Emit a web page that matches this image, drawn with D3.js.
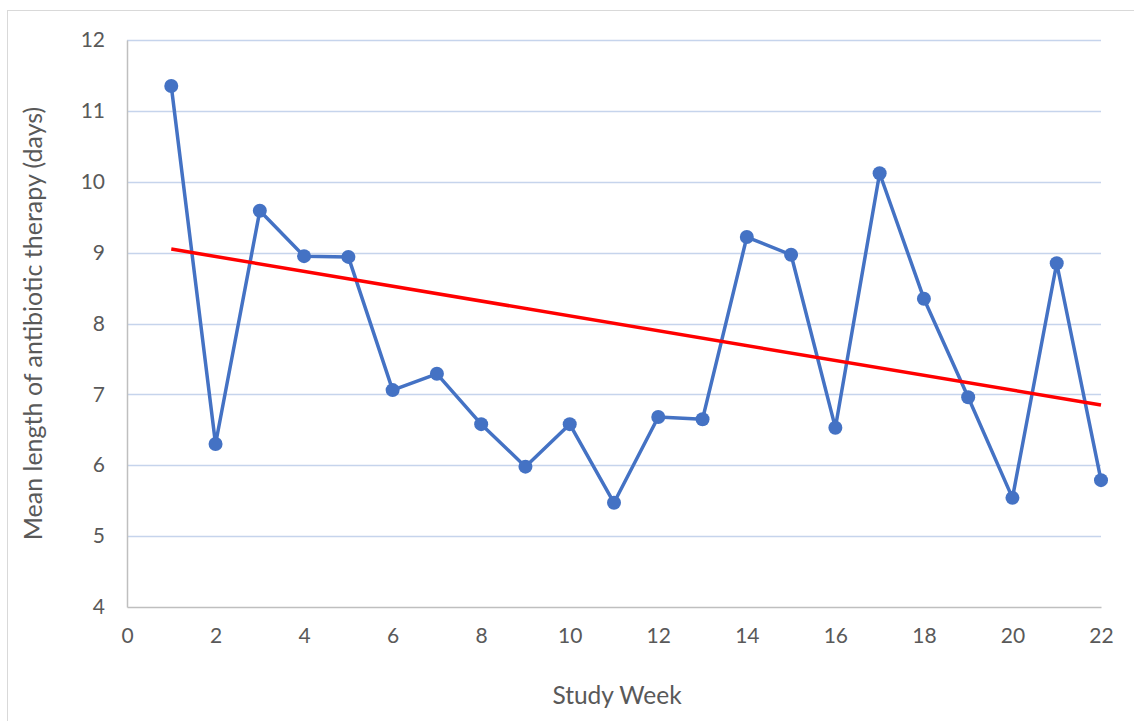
<!DOCTYPE html>
<html>
<head>
<meta charset="utf-8">
<script src="https://cdn.jsdelivr.net/npm/d3@7"></script>
<style>
  html, body { margin: 0; padding: 0; background: #fff; }
  svg { display: block; }
  text { font-family: "Lato", "Open Sans", "Liberation Sans", sans-serif; fill: #595959; }
</style>
</head>
<body>
<svg id="chart" width="1134" height="721"></svg>
<script>
const weeks = [1,2,3,4,5,6,7,8,9,10,11,12,13,14,15,16,17,18,19,20,21,22];
const meanDays = [11.35,6.30,9.59,8.95,8.94,7.06,7.29,6.58,5.98,6.58,5.47,6.68,6.65,9.22,8.97,6.53,10.12,8.35,6.96,5.54,8.85,5.79];
const trendWeeks = [1,22];
const trendDays = [9.05,6.85];
const xTicks = [0,2,4,6,8,10,12,14,16,18,20,22];
const yTicks = [4,5,6,7,8,9,10,11,12];
const xTitle = "Study Week";
const yTitle = "Mean length of antibiotic therapy (days)";

(function () {
const svg = d3.select("#chart");
const mL = 127, mR = 1101, mT = 40, mB = 607;

svg.append("rect").attr("x", 7.5).attr("y", 10.5).attr("width", 1140).attr("height", 720)
  .attr("fill", "none").attr("stroke", "#D9D9D9").attr("stroke-width", 1);

const x = d3.scaleLinear().domain([0,22]).range([mL, mR]);
const y = d3.scaleLinear().domain([4,12]).range([mB, mT]);

// gridlines
svg.append("g").selectAll("line").data(yTicks.filter(d => d > 4)).join("line")
  .attr("x1", mL).attr("x2", mR)
  .attr("y1", d => Math.round(y(d)) + 0.5).attr("y2", d => Math.round(y(d)) + 0.5)
  .attr("stroke", "#C6D4EC").attr("stroke-width", 1.3);

// axes
const xAxis = d3.axisBottom(x).tickValues(xTicks).tickSize(0).tickPadding(21);
const gx = svg.append("g").attr("transform", `translate(0,${mB})`).call(xAxis);
gx.select(".domain").attr("stroke", "#BFBFBF").attr("stroke-width", 1.5);
gx.selectAll("text").style("font-size", "21px").attr("fill", "#595959");

const yAxis = d3.axisLeft(y).tickValues(yTicks).tickSize(0).tickPadding(22);
const gy = svg.append("g").attr("transform", `translate(${mL},0)`).call(yAxis);
gy.select(".domain").attr("stroke", "#BFBFBF").attr("stroke-width", 1.5);
gy.selectAll("text").style("font-size", "21px").attr("fill", "#595959");

// data line
const data = weeks.map((w, i) => ({w, v: meanDays[i]}));
const line = d3.line().x(d => x(d.w)).y(d => y(d.v));
svg.append("path").datum(data).attr("d", line)
  .attr("fill", "none").attr("stroke", "#4472C4").attr("stroke-width", 3.5).attr("stroke-linejoin", "round");

// trend
const trend = trendWeeks.map((w, i) => ({w, v: trendDays[i]}));
svg.append("path").datum(trend).attr("d", line)
  .attr("fill", "none").attr("stroke", "#FF0000").attr("stroke-width", 3.5);

// markers
svg.append("g").selectAll("circle").data(data).join("circle")
  .attr("cx", d => x(d.w)).attr("cy", d => y(d.v)).attr("r", 7)
  .attr("fill", "#4472C4");

// titles
svg.append("text").attr("x", 617).attr("y", 704)
  .attr("text-anchor", "middle").style("font-size", "24.5px").text(xTitle);
svg.append("text").attr("transform", `translate(42,${(mT + mB) / 2}) rotate(-90)`)
  .attr("text-anchor", "middle").style("font-size", "25px").text(yTitle);
})();
</script>
</body>
</html>
